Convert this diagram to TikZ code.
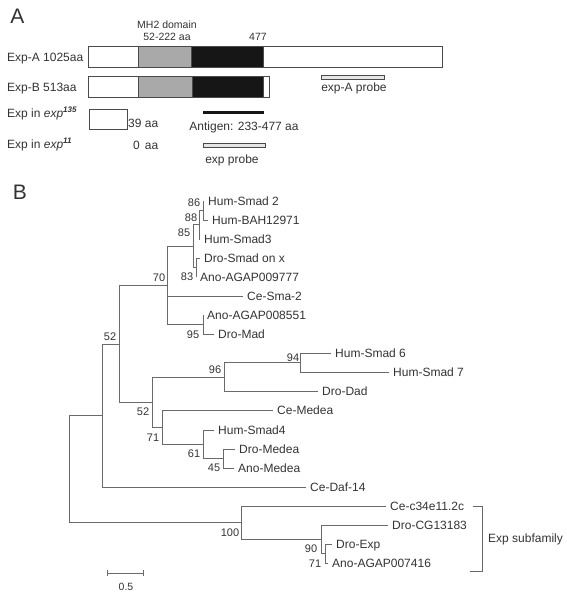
\documentclass[tikz,border=0pt]{standalone}
\usepackage{fontspec}
\setmainfont{Liberation Sans}
\definecolor{txtc}{HTML}{333333}
\definecolor{linec}{HTML}{6A6A6A}
\definecolor{barc}{HTML}{4A4A4A}
\definecolor{grayfill}{HTML}{A9A9A9}
\definecolor{darkfill}{HTML}{161616}
\definecolor{probefill}{HTML}{E6E6E6}
\begin{document}
\begin{tikzpicture}[x=1pt,y=-1pt,
  txt/.style={text=txtc, inner sep=0pt, font=\fontsize{12}{14}\selectfont, text height=8.6pt, text depth=0pt},
  small/.style={text=txtc, inner sep=0pt, font=\fontsize{10.5}{12}\selectfont, text height=7.5pt, text depth=0pt},
  panel/.style={text=txtc, inner sep=0pt, font=\fontsize{21}{24}\selectfont},
  leaf/.style={txt, anchor=west, inner xsep=4pt},
  boot/.style={text=txtc, inner sep=0pt, font=\fontsize{11}{13}\selectfont, text height=7.9pt, text depth=0pt},
  br/.style={draw=linec, line width=0.9pt},
  barline/.style={draw=barc, line width=0.9pt},
  probe/.style={draw=barc, fill=probefill, line width=0.7pt}]
\useasboundingbox (0,0) rectangle (566,599);
% ---------------- Panel A ----------------
\node[panel] (A) at (17.5,16.5) {A};
\node[small] (mh2) at (167,25) {MH2 domain};
\node[small] (range) at (167,37) {52-222 aa};
\node[small] (n477) at (258,37) {477};
% Exp-A
\filldraw[barline, fill=white] (88,46) rectangle (442,67);
\filldraw[barline, fill=grayfill] (138,46) rectangle (191,67);
\filldraw[barline, fill=darkfill] (191,46) rectangle (263,67);
\node[txt, anchor=west] (expA) at (7,57) {Exp-A 1025aa};
% Exp-B
\filldraw[barline, fill=white] (88,76) rectangle (269,97);
\filldraw[barline, fill=grayfill] (138,76) rectangle (192,97);
\filldraw[barline, fill=darkfill] (192,76) rectangle (263,97);
\node[txt, anchor=west] (expB) at (7,87) {Exp-B 513aa};
% exp-A probe
\filldraw[probe] (321,75) rectangle (384,79);
\node[txt] (probeA) at (354,87) {exp-A probe};
% exp135
\node[txt, anchor=west] (e135) at (7,113) {Exp in \textit{exp}\textsuperscript{\textbf{\textit{135}}}};
\filldraw[barline, fill=white] (89,109) rectangle (127,129);
\node[txt, anchor=west] (aa39) at (128,123) {39 aa};
% antigen
\draw[draw=darkfill, line width=3pt] (203,113) -- (264,113);
\node[txt] (antigen) at (244,126) {Antigen: 233-477 aa};
% exp11
\node[txt, anchor=west] (e11) at (7,144) {Exp in \textit{exp}\textsuperscript{\textbf{\textit{11}}}};
\node[txt, anchor=west] (aa0) at (133,145) {0\hspace{5pt}aa};
% exp probe
\filldraw[probe] (203,143) rectangle (265,147);
\node[txt] (probe) at (232,159) {exp probe};
% ---------------- Panel B ----------------
\node[panel] (B) at (20,192.5) {B};
% internal nodes
\coordinate (n86) at (203,210.5);
\coordinate (n88) at (199,224.75);
\coordinate (n83) at (196,267.5);
\coordinate (n85) at (193,246);
\coordinate (n95) at (203,324.5);
\coordinate (n70) at (167,285.5);
\coordinate (n94) at (300,362.5);
\coordinate (n96) at (224,377);
\coordinate (n45) at (223,458.5);
\coordinate (n61) at (203,444);
\coordinate (n71) at (162,427);
\coordinate (n52b) at (152,402);
\coordinate (n119) at (119,344);
\coordinate (n52a) at (102,415.5);
\coordinate (n71b) at (325,553.5);
\coordinate (n90) at (321,539);
\coordinate (n100) at (241,522.5);
\coordinate (root) at (69,469);
% leaves
\node[leaf] (L1) at (204,201) {Hum-Smad 2};
\node[leaf] (L2) at (208,220) {Hum-BAH12971};
\node[leaf] (L3) at (200,239) {Hum-Smad3};
\node[leaf] (L4) at (200,258) {Dro-Smad on x};
\node[leaf] (L5) at (196,277) {Ano-AGAP009777};
\node[leaf] (L6) at (243,296) {Ce-Sma-2};
\node[leaf] (L7) at (203,315) {Ano-AGAP008551};
\node[leaf] (L8) at (214,334) {Dro-Mad};
\node[leaf] (L9) at (331,353) {Hum-Smad 6};
\node[leaf] (L10) at (389,372) {Hum-Smad 7};
\node[leaf] (L11) at (318,391.5) {Dro-Dad};
\node[leaf] (L12) at (273,410.5) {Ce-Medea};
\node[leaf] (L13) at (214,430) {Hum-Smad4};
\node[leaf] (L14) at (235,449) {Dro-Medea};
\node[leaf] (L15) at (234,468) {Ano-Medea};
\node[leaf] (L16) at (306,487) {Ce-Daf-14};
\node[leaf] (L17) at (386,506) {Ce-c34e11.2c};
\node[leaf] (L18) at (388,525) {Dro-CG13183};
\node[leaf] (L19) at (332,544) {Dro-Exp};
\node[leaf] (L20) at (328,563) {Ano-AGAP007416};
% branches
\draw[br] (n86) |- (L1.west);
\draw[br] (n86) |- (L2.west);
\draw[br] (n88) |- (n86);
\draw[br] (n88) |- (L3.west);
\draw[br] (n83) |- (L4.west);
\draw[br] (n83) |- (L5.west);
\draw[br] (n85) |- (n88);
\draw[br] (n85) |- (n83);
\draw[br] (n95) |- (L7.west);
\draw[br] (n95) |- (L8.west);
\draw[br] (n70) |- (n85);
\draw[br] (n70) |- (L6.west);
\draw[br] (n70) |- (n95);
\draw[br] (n94) |- (L9.west);
\draw[br] (n94) |- (L10.west);
\draw[br] (n96) |- (n94);
\draw[br] (n96) |- (L11.west);
\draw[br] (n45) |- (L14.west);
\draw[br] (n45) |- (L15.west);
\draw[br] (n61) |- (L13.west);
\draw[br] (n61) |- (n45);
\draw[br] (n71) |- (L12.west);
\draw[br] (n71) |- (n61);
\draw[br] (n52b) |- (n96);
\draw[br] (n52b) |- (n71);
\draw[br] (n119) |- (n70);
\draw[br] (n119) |- (n52b);
\draw[br] (n52a) |- (n119);
\draw[br] (n52a) |- (L16.west);
\draw[br] (n71b) |- (L19.west);
\draw[br] (n71b) |- (L20.west);
\draw[br] (n90) |- (L18.west);
\draw[br] (n90) |- (n71b);
\draw[br] (n100) |- (L17.west);
\draw[br] (n100) |- (n90);
\draw[br] (root) |- (n52a);
\draw[br] (root) |- (n100);
% bootstrap values
\node[boot] (b86) at (194,203) {86};
\node[boot] (b88) at (191,218) {88};
\node[boot] (b85) at (184,233) {85};
\node[boot] (b83) at (187,277) {83};
\node[boot] (b70) at (159,278) {70};
\node[boot] (b95) at (193,335) {95};
\node[boot] (b52a) at (110,337) {52};
\node[boot] (b96) at (215,370) {96};
\node[boot] (b94) at (293,358) {94};
\node[boot] (b52b) at (143,412) {52};
\node[boot] (b71) at (153,438) {71};
\node[boot] (b61) at (194,454) {61};
\node[boot] (b45) at (214,468) {45};
\node[boot] (b100) at (230,533) {100};
\node[boot] (b90) at (311,549) {90};
\node[boot] (b71b) at (315,564) {71};
% bracket
\coordinate (bt1) at (473,506);
\coordinate (bt2) at (482,506);
\coordinate (bb2) at (482,571);
\coordinate (bb1) at (470,571);
\draw[br] (bt1) -- (bt2) -- (bb2) -- (bb1);
\node[txt, anchor=west] (expsub) at (488,538) {Exp subfamily};
% scale bar
\coordinate (s1) at (107,573);
\coordinate (s2) at (143,573);
\draw[br] (s1) -- (s2);
\draw[br] ([yshift=3pt]s1) -- ([yshift=-3pt]s1);
\draw[br] ([yshift=3pt]s2) -- ([yshift=-3pt]s2);
\node[small] (scale) at (126,587) {0.5};
\end{tikzpicture}
\end{document}
